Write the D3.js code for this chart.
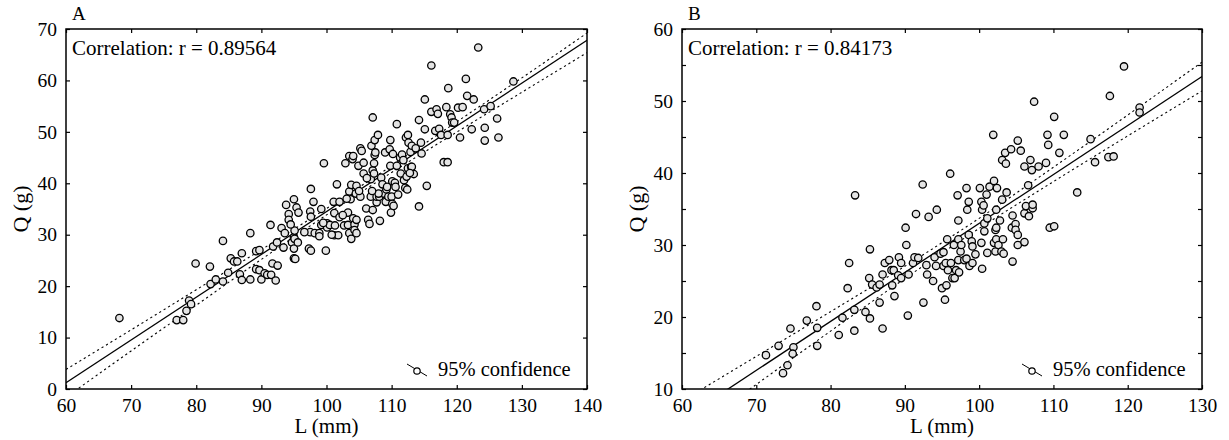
<!DOCTYPE html>
<html><head><meta charset="utf-8">
<script src="https://cdn.jsdelivr.net/npm/d3@7"></script>
</head><body style="margin:0">
<svg id="chart" width="1229" height="440"></svg>
<script>
const panelLabels = ["A", "B"];
const correlationText = ["Correlation: r = 0.89564", "Correlation: r = 0.84173"];
const legendText = "95% confidence";
const xAxisTitle = "L (mm)";
const yAxisTitle = "Q (g)";

const A_L = [68.2,77.0,78.0,78.5,78.9,79.2,79.9,82.1,82.2,83.0,84.1,84.1,84.9,85.3,85.8,86.3,86.7,87.0,87.0,88.3,88.3,89.2,89.7,89.2,89.7,90.0,90.5,90.9,91.5,91.4,91.7,91.8,92.2,92.5,92.4,93.1,93.4,93.6,93.8,94.2,94.2,94.7,95.0,95.0,95.2,95.0,95.1,95.0,95.1,95.4,95.7,95.6,97.3,97.6,97.6,97.5,97.6,97.5,98.0,98.2,98.9,98.9,99.2,99.2,99.6,99.9,100.1,100.1,100.5,101.1,101.2,101.2,101.3,101.6,101.8,102.0,102.0,102.7,102.9,103.3,103.3,103.5,103.5,103.5,103.7,103.8,103.8,104.0,104.1,104.1,104.3,104.3,104.5,104.6,104.6,104.6,104.9,105.2,105.2,105.4,105.7,105.7,106.1,106.4,106.6,106.8,106.8,106.9,107.1,107.1,107.1,107.3,107.3,107.4,107.5,107.7,107.7,107.4,107.9,108.1,108.2,108.4,108.6,108.8,109.0,109.1,109.2,109.5,109.7,109.8,109.8,109.9,110.0,110.1,110.2,110.1,110.5,110.6,110.8,110.8,111.0,111.3,111.4,111.6,111.9,112.1,112.2,112.4,112.3,112.5,112.5,112.6,112.9,113.0,113.1,113.1,113.4,113.7,114.2,114.2,114.5,114.6,115.1,115.1,115.4,116.1,116.1,116.7,116.9,117.1,117.3,117.6,118.0,118.4,118.6,118.6,118.7,119.0,119.2,119.3,119.6,120.2,120.5,120.9,121.4,121.6,122.3,122.6,123.3,124.2,124.3,124.3,125.2,126.2,126.4,128.7,
  102.5,103.1,105.0,106.2,108.0,110.3,111.8,112.8,109.3,107.0,100.8,99.5,96.6,94.5];
const A_Q = [13.8,13.4,13.4,15.2,17.2,16.5,24.4,23.8,20.4,21.3,28.8,20.9,22.6,25.4,24.8,24.8,22.3,26.4,21.2,21.3,30.3,26.8,27.0,23.3,23.1,21.3,22.5,22.2,22.2,31.9,24.4,27.7,21.1,24.0,28.5,31.3,27.5,30.3,35.8,34.0,32.9,28.5,36.9,25.4,25.3,29.5,30.8,27.3,29.2,35.3,34.3,28.5,27.3,26.9,38.9,34.5,33.5,30.5,36.4,30.3,30.3,29.7,35.0,31.9,43.9,26.9,32.2,31.4,31.9,36.4,34.2,29.9,31.8,39.8,29.9,36.4,33.4,31.8,43.9,34.3,31.9,30.3,45.3,38.4,36.9,39.7,29.2,44.7,45.3,33.2,32.0,30.9,38.0,39.5,32.9,30.3,43.4,37.4,46.8,46.3,41.9,44.0,35.1,32.9,32.1,37.4,40.8,47.3,52.8,42.5,34.8,41.9,43.9,45.5,46.0,36.3,37.4,48.4,49.4,37.4,32.7,41.1,39.8,38.0,46.0,36.4,38.8,37.4,46.6,48.4,43.4,34.3,37.4,40.4,45.7,36.0,40.1,39.3,51.5,43.4,37.8,45.0,41.9,45.6,40.6,39.1,48.9,38.8,41.3,42.9,49.4,47.9,46.1,43.2,47.3,43.2,41.8,46.8,35.5,52.3,47.9,45.8,56.3,50.5,39.5,62.9,53.9,50.2,54.4,53.5,50.6,49.4,44.1,54.8,44.1,49.4,58.5,53.4,52.8,51.8,51.8,54.7,48.9,54.8,60.3,57.0,50.5,56.3,66.4,54.4,50.8,48.3,55.0,52.6,48.9,59.8,
  33.8,37.0,38.5,41.0,38.0,35.6,44.5,42.0,39.3,38.5,30.0,32.3,30.5,32.0];

const B_L = [71.3,73.0,73.6,74.2,74.6,75.0,74.9,76.8,78.1,78.2,78.2,81.1,81.6,82.3,82.5,83.2,83.2,83.3,84.7,85.2,85.3,85.3,85.6,86.2,86.6,86.6,87.0,87.0,87.3,87.9,88.2,88.3,88.5,88.6,89.1,89.2,89.5,89.5,90.1,90.2,90.4,90.5,91.1,91.3,91.5,91.8,92.4,92.5,92.9,93.0,93.2,93.8,94.0,94.2,94.3,94.8,95.0,95.2,95.2,95.4,95.5,95.6,95.7,95.8,96.1,96.2,96.4,96.6,96.7,96.9,97.1,97.2,97.2,97.2,97.3,97.5,97.6,98.0,98.3,98.3,98.4,98.6,98.6,98.7,99.0,99.1,99.1,99.5,100.1,100.3,100.3,100.4,100.4,100.6,100.7,100.7,101.0,101.1,101.1,101.4,101.9,102.0,102.0,102.2,102.2,102.3,102.3,102.3,102.4,102.6,102.8,103.0,103.1,103.1,103.2,103.3,103.5,103.6,103.7,104.3,104.4,104.5,104.5,104.9,104.9,105.2,105.2,105.2,105.6,106.1,106.1,106.1,106.3,106.6,106.7,106.9,107.1,107.2,107.2,107.4,108.0,109.0,109.2,109.3,109.5,110.1,110.1,110.8,111.4,113.2,115.0,115.6,117.4,117.6,118.1,119.5,121.6,121.6];
const B_Q = [14.7,16.0,12.2,13.3,18.4,15.8,14.9,19.5,21.5,18.5,16.0,17.5,19.9,24.0,27.5,21.0,18.1,36.9,20.7,25.4,19.8,29.4,24.5,24.1,24.5,22.0,18.4,25.9,27.5,27.9,26.5,24.4,26.5,22.9,25.8,28.3,27.5,25.4,32.4,30.0,20.2,25.9,27.5,28.3,34.3,28.2,38.4,22.0,27.2,25.9,33.9,25.0,28.3,27.1,34.9,28.8,24.0,27.1,29.0,22.4,27.5,24.4,30.8,26.5,39.9,27.5,25.4,30.0,25.4,26.5,36.9,33.4,30.8,27.9,26.2,29.1,30.0,27.9,37.9,28.1,34.9,36.0,31.4,27.1,30.5,27.5,29.8,28.7,37.9,30.3,36.0,34.9,26.7,35.5,33.0,31.9,37.0,33.7,28.9,38.1,45.3,38.9,30.3,32.1,29.1,30.8,34.9,32.4,37.9,30.0,33.4,29.1,36.3,41.8,30.8,28.8,42.8,41.3,37.3,43.3,32.4,34.1,27.7,32.9,32.1,44.5,31.4,30.0,43.1,40.9,34.4,30.4,35.4,38.3,34.0,41.8,40.4,35.1,35.6,49.9,40.9,41.4,45.3,43.9,32.4,32.6,47.8,42.8,45.3,37.3,44.7,41.5,42.2,50.7,42.3,54.8,49.1,48.4];

const A_fitL = [60, 140];
const A_fitQ = [1.2, 67.8];
const A_bandL = [60, 70, 80, 90, 100, 110, 120, 130, 140];
const A_bandUpper = [3.8, 11.5, 19.3, 27.1, 35.1, 43.4, 51.95, 60.5, 69.2];
const A_bandLower = [-1.6, 7.4, 16.3, 25.2, 33.85, 42.1, 49.95, 57.7, 65.4];

const B_fitL = [60, 130];
const B_fitQ = [5.78, 53.4];
const B_bandL = [60, 70, 80, 90, 100, 110, 120, 130];
const B_bandUpper = [8.33, 14.53, 20.74, 27.04, 33.7, 40.8, 48.05, 55.4];
const B_bandLower = [3.23, 10.63, 18.04, 25.34, 32.3, 38.8, 45.15, 51.4];

const A_xTicks = [60, 70, 80, 90, 100, 110, 120, 130, 140];
const A_yTicks = [0, 10, 20, 30, 40, 50, 60, 70];
const B_xTicks = [60, 70, 80, 90, 100, 110, 120, 130];
const B_yTicks = [10, 20, 30, 40, 50, 60];
const B_yMinorTicks = [15, 25, 35, 45, 55];

const svg = d3.select("#chart");
function txt(sel, size) {
  return sel.style("font", size + 'px "Liberation Serif"').attr("fill", "#000");
}

function drawPanel(o) {
  const x = d3.scaleLinear().domain(o.xDomain).range([o.left, o.right]);
  const y = d3.scaleLinear().domain(o.yDomain).range([o.bottom, o.top]);
  const g = svg.append("g");
  const clipId = "clip" + o.id;
  svg.append("clipPath").attr("id", clipId).append("rect")
    .attr("x", o.left).attr("y", o.top).attr("width", o.right - o.left).attr("height", o.bottom - o.top);

  const allY = o.yTicks.concat(o.yMinor || []).sort((a, b) => a - b);
  const ax = [
    d3.axisBottom(x).tickValues(o.xTicks).tickSizeInner(-4).tickSizeOuter(0).tickPadding(9),
    d3.axisTop(x).tickValues(o.xTicks).tickSizeInner(-4).tickSizeOuter(0).tickFormat(""),
    d3.axisLeft(y).tickValues(allY).tickSizeInner(-4).tickSizeOuter(0).tickPadding(9)
      .tickFormat(d => o.yTicks.includes(d) ? d : ""),
    d3.axisRight(y).tickValues(allY).tickSizeInner(-4).tickSizeOuter(0).tickFormat("")
  ];
  const pos = [`translate(0,${o.bottom})`, `translate(0,${o.top})`, `translate(${o.left},0)`, `translate(${o.right},0)`];
  ax.forEach((a, i) => {
    const ag = g.append("g").attr("transform", pos[i]).call(a);
    ag.select(".domain").remove();
    ag.selectAll("line").attr("stroke", "#000").attr("stroke-width", 1.2);
    txt(ag.selectAll("text"), 19.5);
  });
  g.append("rect").attr("x", o.left).attr("y", o.top).attr("width", o.right - o.left).attr("height", o.bottom - o.top)
    .attr("fill", "none").attr("stroke", "#000").attr("stroke-width", 1.5);

  const lg = g.append("g").attr("clip-path", `url(#${clipId})`);
  const curve = d3.line().x(d => x(d[0])).y(d => y(d[1])).curve(d3.curveMonotoneX);
  [o.bandU, o.bandLo].forEach(arr => {
    lg.append("path").datum(o.bandL.map((v, i) => [v, arr[i]])).attr("d", curve)
      .attr("fill", "none").attr("stroke", "#000").attr("stroke-width", 1.1).attr("stroke-dasharray", "2.2,3");
  });
  lg.append("path").datum(o.fitL.map((v, i) => [v, o.fitQ[i]])).attr("d", d3.line().x(d => x(d[0])).y(d => y(d[1])))
    .attr("fill", "none").attr("stroke", "#000").attr("stroke-width", 1.3);

  const pts = o.L.map((v, i) => [v, o.Q[i]]);
  g.append("g").selectAll("circle").data(pts).join("circle")
    .attr("cx", d => x(d[0])).attr("cy", d => y(d[1])).attr("r", 3.7)
    .attr("fill", "#e4e4e4").attr("stroke", "#000").attr("stroke-width", 1.3);

  txt(g.append("text").attr("x", o.left + 6).attr("y", 20).text(o.label), 19);
  txt(g.append("text").attr("x", o.left + 6).attr("y", o.top + 26).text(o.corr), 21);
  txt(g.append("text").attr("x", (o.left + o.right) / 2).attr("y", 433).attr("text-anchor", "middle").text(xAxisTitle), 21);
  txt(g.append("text").attr("transform", `translate(${o.left - 38},${(o.top + o.bottom) / 2}) rotate(-90)`)
    .attr("text-anchor", "middle").text(yAxisTitle), 22);

  const lx = o.right - 170, ly = o.bottom - 18;
  g.append("line").attr("x1", lx - 10).attr("y1", ly - 7).attr("x2", lx + 10).attr("y2", ly + 5)
    .attr("stroke", "#000").attr("stroke-width", 1);
  g.append("circle").attr("cx", lx).attr("cy", ly).attr("r", 3.2)
    .attr("fill", "#fff").attr("stroke", "#000").attr("stroke-width", 1.2);
  txt(g.append("text").attr("x", lx + 21).attr("y", ly + 5).text(legendText), 20.5);
}

drawPanel({id: "A", left: 66, right: 587, top: 29, bottom: 389, xDomain: [60, 140], yDomain: [0, 70],
  xTicks: A_xTicks, yTicks: A_yTicks, L: A_L, Q: A_Q, fitL: A_fitL, fitQ: A_fitQ,
  bandL: A_bandL, bandU: A_bandUpper, bandLo: A_bandLower, label: panelLabels[0], corr: correlationText[0]});
drawPanel({id: "B", left: 682, right: 1202, top: 29, bottom: 389, xDomain: [60, 130], yDomain: [10, 60],
  xTicks: B_xTicks, yTicks: B_yTicks, yMinor: B_yMinorTicks, L: B_L, Q: B_Q, fitL: B_fitL, fitQ: B_fitQ,
  bandL: B_bandL, bandU: B_bandUpper, bandLo: B_bandLower, label: panelLabels[1], corr: correlationText[1]});
</script>
</body></html>
